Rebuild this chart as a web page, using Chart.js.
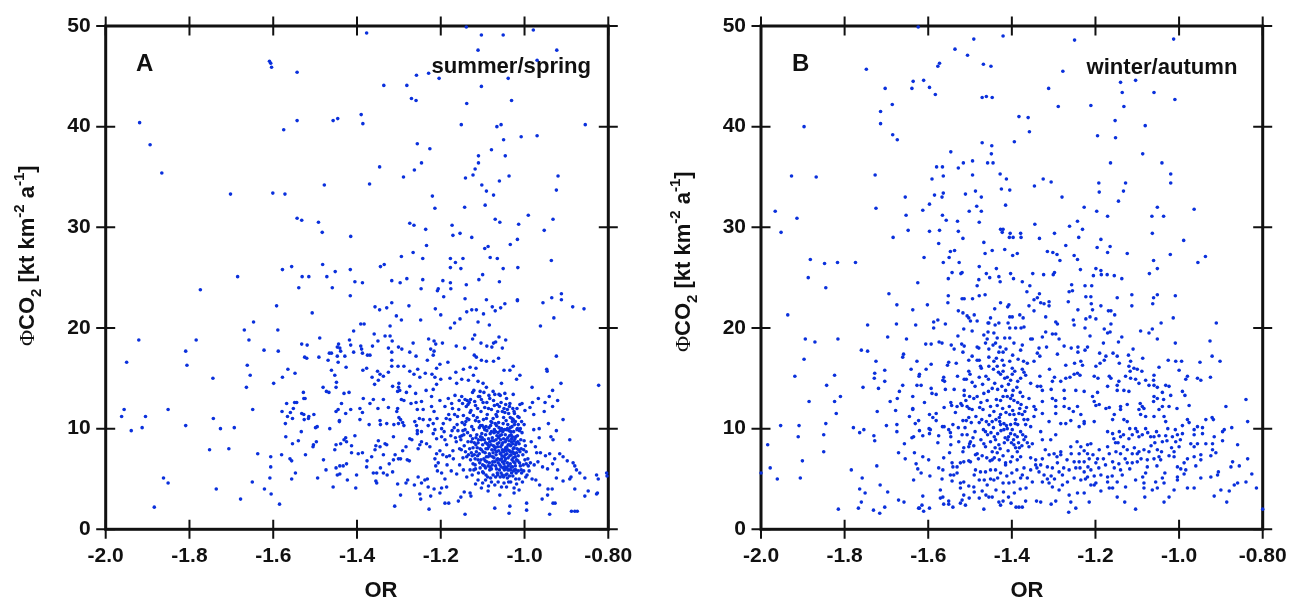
<!DOCTYPE html>
<html>
<head>
<meta charset="utf-8">
<script src="https://cdn.jsdelivr.net/npm/chart.js@4"></script>
<style>
html,body{margin:0;padding:0;background:#fff;overflow:hidden}
canvas{position:absolute;top:0}
</style>
</head>
<body>
<canvas id="panelA" width="645" height="601" style="left:0"></canvas>
<canvas id="panelB" width="644" height="601" style="left:645px"></canvas>
<script>
const xTicks = [-2.0,-1.8,-1.6,-1.4,-1.2,-1.0,-0.8]
const xTickLabels = ['-2.0','-1.8','-1.6','-1.4','-1.2','-1.0','-0.80']
const yTicks = [0,10,20,30,40,50]

// OR, flux pairs
const summerSpring = [
[-1.919,40.4],[-1.894,38.2],[-1.866,35.4],[-1.702,33.3],[-1.601,33.4],[-1.572,33.3],[-1.609,46.5],[-1.606,46.3],[-1.604,45.9],[-1.543,45.4],
[-1.543,40.6],[-1.575,39.7],[-1.478,34.2],[-1.543,30.9],[-1.532,30.7],[-1.492,30.5],[-1.483,29.5],[-1.482,26.3],[-1.556,26.1],[-1.578,25.8],
[-1.531,25.1],[-1.515,25.1],[-1.472,25.1],[-1.685,25.1],[-1.774,23.8],[-1.539,24.0],
[-1.377,49.3],[-1.139,49.9],[-1.103,49.1],[-1.051,49.1],[-0.979,49.6],[-1.111,47.6],[-0.923,47.6],[-0.970,46.6],[-1.258,45.1],[-1.229,45.3],
[-1.204,44.8],[-1.039,44.8],[-1.336,44.1],[-1.281,44.1],[-1.103,44.0],[-1.270,42.8],[-1.259,42.6],[-1.138,42.3],[-1.031,42.6],[-1.457,40.6],
[-1.446,40.8],[-1.390,41.2],[-1.386,40.3],[-1.151,40.2],[-1.066,40.0],[-1.056,40.2],[-0.855,40.2],[-1.008,39.0],[-0.970,39.1],[-1.050,38.7],
[-1.256,38.3],[-1.226,37.8],[-1.079,37.7],[-1.110,37.1],[-1.046,37.1],[-1.110,36.4],[-1.246,36.4],[-1.346,36.0],[-1.118,35.8],[-1.263,35.7],
[-1.123,35.2],[-1.289,35.0],[-1.141,34.9],[-1.037,35.1],[-0.920,35.1],[-1.060,34.6],[-1.102,34.2],[-1.370,34.3],[-1.091,33.6],[-1.074,33.2],
[-0.924,33.7],[-1.220,33.1],[-1.214,31.9],[-1.143,32.0],[-1.094,32.2],[-0.991,31.2],[-1.070,30.8],[-1.059,30.5],[-0.932,30.8],[-1.274,30.4],
[-1.264,30.2],[-1.173,30.2],[-1.014,30.3],[-1.236,29.8],[-0.953,29.7],[-1.171,29.2],[-1.154,29.4],[-1.126,29.0],[-1.017,28.8],[-1.415,29.1],
[-1.034,28.3],[-1.234,28.2],[-1.095,27.9],[-1.087,28.1],[-1.266,27.5],[-1.294,27.1],[-1.243,26.9],[-1.177,26.9],[-1.147,26.9],[-1.082,27.0],
[-1.065,26.9],[-0.936,26.7],[-1.165,26.5],[-1.177,26.0],[-1.152,25.9],[-1.051,25.9],[-1.016,26.0],[-1.344,26.1],[-1.335,26.3],[-1.416,25.8],
[-1.452,25.6],[-1.100,25.3],[-1.109,24.8],[-1.060,24.6],[-1.317,24.7],[-1.297,24.5],[-1.281,24.9],[-1.243,24.8],[-1.195,24.7],[-1.177,24.5],
[-1.139,24.3],[-1.405,24.6],[-1.387,24.5],[-1.459,24.0],[-1.247,23.9],[-1.206,23.9],[-1.208,23.7],[-1.176,23.9],[-1.416,23.2],[-1.193,23.1],
[-1.142,22.9],[-0.935,23.0],[-0.912,23.4],[-0.912,22.8],[-1.091,22.8],[-1.017,22.8],
[-1.592,22.2],[-1.507,21.5],[-1.647,20.6],[-1.669,19.8],[-1.589,19.8],[-1.921,18.8],[-1.784,18.8],[-1.658,18.8],[-1.489,19.0],[-1.532,18.4],
[-1.519,18.3],[-1.622,17.8],[-1.588,17.7],[-1.809,17.7],[-1.950,16.6],[-1.806,16.3],[-1.662,16.3],[-1.525,17.1],[-1.520,17.0],[-1.491,17.1],
[-1.469,16.8],[-1.466,17.5],[-1.565,15.9],[-1.548,15.5],[-1.655,15.3],[-1.578,15.1],[-1.744,15.0],[-1.599,14.5],[-1.664,14.1],[-1.481,14.1],
[-1.473,13.7],[-1.467,13.6],[-1.528,13.6],[-1.527,13.0],[-1.524,13.0],[-1.549,12.6],[-1.544,12.6],[-1.568,12.5],[-1.552,12.0],[-1.559,11.6],
[-1.579,11.7],[-1.566,11.2],[-1.554,11.0],[-1.532,11.5],[-1.527,11.4],[-1.503,11.4],[-1.515,11.2],[-1.516,11.0],[-1.526,10.9],[-1.571,10.5],
[-1.499,10.1],[-1.495,10.2],[-1.533,9.7],[-1.465,10.0],[-1.570,9.2],[-1.540,8.8],[-1.554,8.5],[-1.497,8.7],[-1.504,8.4],[-1.505,8.2],
[-1.580,7.4],[-1.523,7.4],[-1.637,7.5],[-1.606,7.2],[-1.606,6.2],[-1.560,7.0],[-1.556,6.8],[-1.480,6.9],[-1.474,5.9],[-1.547,5.6],
[-1.494,5.1],[-1.556,5.0],[-1.608,5.1],[-1.650,4.7],[-1.621,4.0],[-1.605,3.5],[-1.585,2.5],[-1.678,3.0],[-1.736,4.0],[-1.862,5.1],
[-1.851,4.6],[-1.884,2.2],[-1.956,11.9],[-1.962,11.2],[-1.939,9.8],[-1.913,10.1],[-1.905,11.2],[-1.851,11.9],[-1.809,10.3],[-1.743,11.0],
[-1.726,10.0],[-1.693,10.1],[-1.649,11.9],[-1.752,7.9],[-1.706,8.0],
[-1.357,22.1],[-1.346,21.8],[-1.329,22.0],[-1.317,22.5],[-1.276,22.2],[-1.213,21.9],[-1.200,21.3],[-1.138,21.6],[-1.126,21.8],[-1.115,21.8],
[-1.098,21.4],[-1.077,22.1],[-1.070,21.7],[-1.057,22.0],[-1.047,22.4],[-1.017,22.7],[-0.956,22.5],[-0.885,22.1],[-0.858,21.9],[-0.930,21.0],
[-0.962,20.2],[-1.306,21.2],[-1.294,20.8],[-1.248,20.8],[-1.154,20.9],[-1.167,20.5],[-1.177,20.0],[-1.111,20.6],[-1.084,20.3],[-1.391,20.4],
[-1.383,20.4],[-1.321,20.2],[-1.408,19.7],[-1.359,19.4],[-1.333,19.2],[-1.321,19.2],[-1.316,18.7],[-1.350,18.7],[-1.418,18.8],[-1.415,18.3],
[-1.444,18.4],[-1.447,18.1],[-1.441,18.0],[-1.439,17.7],[-1.461,17.5],[-1.447,17.2],[-1.429,17.2],[-1.391,18.2],[-1.389,17.9],[-1.387,17.5],
[-1.363,18.2],[-1.408,17.6],[-1.375,17.3],[-1.369,17.3],[-1.325,18.0],[-1.317,17.6],[-1.301,18.1],[-1.293,17.9],[-1.266,18.5],[-1.274,17.6],
[-1.229,18.9],[-1.216,18.7],[-1.212,18.4],[-1.224,17.9],[-1.216,17.7],[-1.218,17.3],[-1.196,18.5],[-1.163,18.2],[-1.143,18.0],[-1.124,18.9],
[-1.119,19.3],[-1.104,18.5],[-1.090,18.2],[-1.074,18.5],[-1.069,18.6],[-1.078,18.1],[-1.061,19.1],[-1.045,18.8],[-1.053,18.0],[-1.120,17.3],
[-1.115,17.1],[-1.259,17.2],[-1.317,16.8],[-1.232,16.8],[-1.183,16.6],[-1.202,16.4],[-1.103,16.8],[-1.091,16.7],[-1.074,16.7],[-1.062,17.0],
[-0.924,17.2],[-1.445,16.6],[-1.426,16.1],[-1.461,15.8],[-1.453,15.3],[-1.449,14.6],[-1.450,14.1],[-1.386,15.8],[-1.377,16.0],[-1.317,16.2],
[-1.302,16.2],[-1.288,16.2],[-1.351,15.7],[-1.345,15.4],[-1.325,15.6],[-1.364,15.1],[-1.337,15.2],[-1.349,14.8],[-1.358,14.4],[-1.210,16.0],
[-1.214,15.1],[-1.200,14.9],[-1.274,15.7],[-1.264,15.4],[-1.255,15.9],[-1.250,15.1],[-1.237,15.5],[-1.221,15.4],[-1.178,15.0],[-1.164,15.6],
[-1.146,15.9],[-1.130,16.1],[-1.116,16.0],[-1.049,15.8],[-1.035,15.8],[-1.027,16.2],[-1.011,15.3],[-1.019,14.9],[-0.947,15.9],[-0.946,15.7],
[-0.913,14.5],[-0.823,14.3],[-0.982,14.1],[-0.933,13.8],[-1.419,13.6],[-1.431,13.5],[-1.437,12.5],[-1.445,11.9],[-1.450,11.7],[-1.442,10.7],
[-1.415,11.9],[-1.427,11.5],[-1.385,13.0],[-1.369,12.5],[-1.361,12.9],[-1.350,12.0],[-1.393,12.0],[-1.387,11.6],[-1.337,12.9],[-1.325,12.1],
[-1.303,13.7],[-1.298,13.8],[-1.315,14.2],[-1.300,14.5],[-1.301,14.1],[-1.282,13.6],[-1.274,14.2],[-1.260,13.5],[-1.235,13.8],[-1.218,13.9],
[-1.210,14.4],[-1.222,13.2],[-1.294,12.9],[-1.288,12.8],[-1.303,12.0],[-1.305,11.7],[-1.271,12.5],[-1.259,12.6],[-1.246,12.7],[-1.256,11.9],
[-1.242,11.9],[-1.222,12.2],[-1.216,11.7],[-1.202,12.8],[-1.190,12.2],[-1.166,13.3],[-1.150,13.2],[-1.137,12.8],[-1.182,13.0],[-1.174,12.5],
[-1.162,14.5],[-1.150,14.9],[-1.134,14.8],[-1.122,15.3],[-1.111,14.7],[-1.099,14.5],[-1.121,13.8],[-1.106,13.7],[-1.091,14.1],[-1.075,13.7],
[-1.055,14.5],[-1.047,13.5],[-1.027,13.4],[-1.043,13.0],[-1.035,12.5],[-1.011,12.4],[-1.006,12.5],[-0.967,13.0],[-0.981,12.6],[-0.987,12.1],
[-0.941,13.2],[-0.951,12.6],[-0.921,12.8],[-0.933,12.2],[-0.953,11.7],[-1.025,11.7],[-0.999,11.8],[-0.978,11.4],[-0.908,10.9],[-0.943,10.5],
[-0.924,9.8],[-0.978,9.9],[-0.965,10.0],[-0.892,8.9],[-0.965,9.1],[-0.937,9.2],[-0.932,8.9],[-0.916,7.5],[-0.908,7.2],[-0.898,6.8],
[-0.884,6.6],[-0.880,6.3],[-0.876,5.9],[-0.868,5.6],[-0.856,5.1],[-0.828,5.4],[-0.824,5.0],[-0.804,5.6],[-0.803,5.3],[-0.848,3.8],
[-0.856,3.3],[-0.826,3.6],[-0.828,3.5],[-0.880,4.0],[-0.892,5.0],[-0.889,5.2],[-0.908,4.8],[-0.924,5.1],[-0.888,1.8],[-0.880,1.8],
[-0.874,1.8],[-0.940,1.5],[-0.932,2.6],[-0.927,2.6],[-0.958,3.0],[-0.945,3.4],[-0.944,4.0],[-0.934,4.0],[-0.995,2.6],[-0.995,1.9],
[-1.037,1.6],[-1.035,2.3],[-1.071,2.1],[-1.142,1.5],[-1.228,2.0],[-1.310,2.3],[-1.190,2.6],[-1.181,2.6],[-1.158,2.8],[-1.152,3.2],
[-1.144,3.7],[-1.130,3.6],[-1.128,3.3],[-1.117,4.5],[-1.103,4.1],[-1.087,3.8],[-1.059,3.4],[-1.025,4.1],[-1.025,3.6],[-1.013,3.9],
[-1.250,3.5],[-1.248,3.0],[-1.224,3.3],[-1.202,3.6],[-1.198,4.1],[-1.186,4.2],[-1.296,3.4],[-1.303,4.5],[-1.283,4.6],[-1.279,4.9],
[-1.263,4.4],[-1.246,4.6],[-1.238,4.9],[-1.232,5.0],[-1.230,4.2],[-1.216,4.0],[-1.254,5.2],[-1.361,5.6],[-1.353,5.6],[-1.344,6.1],
[-1.337,5.6],[-1.328,5.4],[-1.323,6.5],[-1.315,5.7],[-1.355,4.8],[-1.353,4.6],[-1.377,6.2],[-1.376,6.8],[-1.365,7.2],[-1.357,7.9],
[-1.345,8.2],[-1.349,8.8],[-1.355,8.3],[-1.333,8.5],[-1.329,8.4],[-1.337,7.4],[-1.313,6.9],[-1.309,7.4],[-1.301,7.0],[-1.296,7.0],
[-1.291,7.8],[-1.283,8.2],[-1.274,9.0],[-1.269,8.9],[-1.280,6.9],[-1.275,6.8],[-1.313,9.2],[-1.405,9.3],[-1.427,9.1],[-1.431,8.9],
[-1.439,8.5],[-1.450,8.4],[-1.453,7.9],[-1.425,8.7],[-1.413,8.3],[-1.413,7.6],[-1.397,7.5],[-1.387,7.6],[-1.371,10.4],[-1.393,10.9],
[-1.442,10.8],[-1.345,10.8],[-1.344,10.4],[-1.329,10.5],[-1.312,10.4],[-1.300,11.1],[-1.296,10.9],[-1.301,10.5],[-1.291,10.6],[-1.288,10.3],
[-1.450,6.1],[-1.441,6.3],[-1.433,6.3],[-1.425,6.5],[-1.447,5.4],[-1.441,5.5],[-1.401,5.4],[-1.423,4.9],[-1.457,4.2],[-1.403,4.1],
[-1.262,10.7],[-1.258,10.3],[-1.251,11.0],[-1.242,10.9],[-1.256,9.8],[-1.246,9.7],[-1.256,9.5],[-1.246,8.7],[-1.234,8.5],[-1.226,10.9],
[-1.230,10.3],[-1.218,10.5],[-1.209,11.0],[-1.194,10.5],[-1.214,9.9],[-1.198,10.0],[-1.198,9.2],[-1.190,8.9],[-1.210,9.0],[-1.218,9.5],
[-1.226,8.2],[-1.250,8.4],[-1.254,8.0],[-1.210,7.5],[-1.202,7.8],[-1.214,7.0],[-1.206,6.6],[-1.212,6.3],[-1.185,6.4],[-1.186,7.2],
[-1.170,7.0],[-1.198,5.6],[-1.190,5.0],[-1.208,5.8],[-1.162,5.5],[-1.146,5.9],[-1.130,5.9],[-1.121,5.9],
// dense core, around -1.05 / 8
[-1.181,11.4],[-1.168,10.1],[-1.157,11.9],[-1.176,9.3],[-1.149,10.6],[-1.163,8.7],[-1.139,12.2],[-1.154,9.2],[-1.133,10.9],[-1.171,7.8],
[-1.128,11.8],[-1.144,8.3],[-1.119,12.7],[-1.136,9.6],[-1.113,11.1],[-1.127,7.6],[-1.107,13.2],[-1.122,9.9],[-1.101,10.3],[-1.116,8.4],
[-1.095,12.1],[-1.111,6.9],[-1.089,11.4],[-1.105,9.2],[-1.083,13.0],[-1.099,7.7],[-1.078,10.6],[-1.093,8.6],[-1.072,12.3],[-1.087,6.3],
[-1.066,11.2],[-1.082,9.5],[-1.061,13.4],[-1.076,7.2],[-1.055,10.0],[-1.070,8.1],[-1.049,12.0],[-1.065,5.6],[-1.044,10.8],[-1.059,9.3],
[-1.038,11.5],[-1.053,6.7],[-1.033,9.7],[-1.047,7.9],[-1.027,10.9],[-1.041,5.1],[-1.021,9.2],[-1.035,8.4],[-1.015,10.4],[-1.029,6.2],
[-1.147,7.1],[-1.118,6.4],[-1.092,5.4],[-1.068,7.4],[-1.043,6.1],[-1.024,7.5],[-1.009,8.9],[-1.003,6.4],[-0.996,7.7],[-0.989,5.8],
[-1.137,11.0],[-1.124,9.0],[-1.109,10.7],[-1.096,8.9],[-1.085,10.1],[-1.073,8.8],[-1.064,11.7],[-1.056,7.6],[-1.046,9.4],[-1.039,7.1],
[-1.031,8.7],[-1.026,6.7],[-1.018,8.0],[-1.012,6.6],[-1.006,9.6],[-0.998,8.3],[-0.992,7.0],[-0.984,8.7],[-0.977,6.4],[-0.971,7.6],
[-1.131,8.0],[-1.126,10.2],[-1.114,9.4],[-1.103,7.9],[-1.098,10.9],[-1.091,7.2],[-1.086,9.0],[-1.079,6.0],[-1.075,11.0],[-1.069,9.7],
[-1.063,6.6],[-1.057,8.9],[-1.051,10.5],[-1.048,5.9],[-1.042,8.2],[-1.037,9.8],[-1.032,7.4],[-1.028,5.3],[-1.023,9.0],[-1.019,6.9],
[-1.142,9.9],[-1.129,6.9],[-1.120,8.6],[-1.112,7.3],[-1.106,6.1],[-1.100,8.4],[-1.094,6.8],[-1.088,8.0],[-1.081,5.1],[-1.074,8.3],
[-1.067,10.3],[-1.062,7.8],[-1.058,5.2],[-1.052,8.6],[-1.045,7.0],[-1.040,9.1],[-1.034,6.5],[-1.030,10.2],[-1.025,8.1],[-1.020,5.6],
[-1.159,9.8],[-1.151,7.9],[-1.146,11.3],[-1.141,7.7],[-1.135,8.7],[-1.130,11.6],[-1.125,7.3],[-1.117,10.8],[-1.110,8.9],[-1.104,11.7],
[-1.097,7.0],[-1.090,9.8],[-1.084,7.5],[-1.077,9.1],[-1.071,6.7],[-1.065,8.5],[-1.060,12.2],[-1.054,7.3],[-1.049,6.5],[-1.043,9.9],
[-1.036,7.8],[-1.031,5.6],[-1.026,9.7],[-1.022,7.2],[-1.017,9.3],[-1.011,7.7],[-1.007,5.6],[-1.001,8.8],[-0.994,5.4],[-0.986,6.6],
[-1.108,7.5],[-1.102,9.5],[-1.096,6.3],[-1.089,8.5],[-1.083,5.9],[-1.078,7.9],[-1.072,9.9],[-1.067,6.0],[-1.062,9.1],[-1.056,6.2],
[-1.050,7.7],[-1.046,8.7],[-1.041,6.6],[-1.038,4.7],[-1.033,8.3],[-1.029,7.7],[-1.024,5.9],[-1.016,6.8],[-1.013,5.0],[-1.004,7.4],
[-1.115,7.7],[-1.107,6.6],[-1.100,5.7],[-1.093,9.4],[-1.087,7.2],[-1.080,8.4],[-1.073,7.1],[-1.068,8.9],[-1.064,7.0],[-1.058,9.8],
[-1.053,5.4],[-1.047,6.8],[-1.042,7.5],[-1.037,5.9],[-1.032,9.4],[-1.027,8.0],[-1.022,6.3],[-1.018,9.9],[-1.010,6.3],[-0.999,6.9],
[-1.178,10.9],[-1.172,12.0],[-1.165,9.1],[-1.160,11.2],[-1.155,8.0],[-1.148,12.5],[-1.143,10.4],[-1.138,7.2],[-1.132,12.6],[-1.127,8.7],
[-1.122,11.3],[-1.118,7.0],[-1.112,12.0],[-1.105,10.3],[-1.099,12.6],[-1.092,10.2],[-1.086,12.0],[-1.080,10.7],[-1.074,12.8],[-1.068,11.4],
[-1.062,10.6],[-1.056,12.6],[-1.050,11.1],[-1.045,12.4],[-1.040,10.4],[-1.034,11.1],[-1.028,12.0],[-1.022,10.7],[-1.016,11.2],[-1.010,10.0],
[-0.974,8.2],[-0.968,6.7],[-0.962,7.6],[-0.957,6.2],[-0.950,7.3],[-0.945,6.0],[-0.940,7.5],[-0.933,6.5],[-0.928,7.0],[-0.921,5.9],
[-1.186,8.4],[-1.179,7.3],[-1.192,9.7],[-1.187,11.0],[-1.195,7.4],[-1.175,5.8],[-1.155,6.4],[-1.138,5.2],[-1.125,5.4],[-1.111,4.9],
[-1.100,4.6],[-1.093,4.9],[-1.086,4.3],[-1.079,4.7],[-1.071,4.4],[-1.063,4.7],[-1.055,4.2],[-1.049,4.6],[-1.043,4.2],[-1.033,4.7],
[-1.019,4.5],[-1.005,4.7],[-0.997,5.2],[-0.982,5.0],[-0.973,4.9],[-0.964,4.4],
// second pass over the solid middle of the blob
[-1.116,9.1],[-1.108,10.1],[-1.103,8.9],[-1.097,10.1],[-1.094,7.6],[-1.091,11.0],[-1.087,8.4],[-1.084,6.6],[-1.081,10.3],[-1.078,8.8],
[-1.076,6.7],[-1.073,9.6],[-1.071,7.9],[-1.069,5.2],[-1.066,9.3],[-1.064,8.2],[-1.061,10.1],[-1.059,6.9],[-1.057,8.2],[-1.055,9.4],
[-1.053,7.9],[-1.051,6.1],[-1.048,9.9],[-1.046,7.4],[-1.044,8.9],[-1.041,10.0],[-1.039,6.3],[-1.037,8.8],[-1.035,7.3],[-1.033,5.9],
[-1.031,9.0],[-1.029,10.7],[-1.027,7.1],[-1.025,8.8],[-1.023,6.6],[-1.021,8.4],[-1.019,7.6],[-1.017,10.0],[-1.015,7.3],[-1.013,8.5],
[-1.120,7.4],[-1.113,8.1],[-1.106,8.0],[-1.100,6.4],[-1.095,9.9],[-1.090,6.7],[-1.085,8.2],[-1.082,7.3],[-1.079,9.7],[-1.075,7.6],
[-1.070,10.5],[-1.067,7.7],[-1.063,9.6],[-1.060,5.9],[-1.058,7.5],[-1.054,8.4],[-1.052,9.7],[-1.049,7.2],[-1.047,6.2],[-1.044,7.8],
[-1.042,5.5],[-1.040,7.9],[-1.036,9.3],[-1.034,7.7],[-1.030,6.9],[-1.028,8.5],[-1.024,10.4],[-1.021,5.9],[-1.016,8.7],[-1.012,9.8],
[-1.123,8.1],[-1.111,8.6],[-1.101,9.1],[-1.092,8.0],[-1.083,8.7],[-1.077,6.4],[-1.072,8.2],[-1.066,6.9],[-1.061,8.6],[-1.055,7.0],
[-1.050,9.0],[-1.045,8.1],[-1.039,8.4],[-1.034,10.1],[-1.029,9.2],[-1.026,7.6],[-1.020,8.6],[-1.014,7.9],[-1.008,8.0],[-1.002,7.9],
[-1.150,9.3],[-1.145,9.4],[-1.140,10.7],[-1.134,7.4],[-1.129,9.3],[-1.123,6.5],[-1.117,6.0],[-1.110,5.6],[-1.104,6.9],[-1.098,5.6],
[-1.093,6.1],[-1.088,5.2],[-1.082,6.2],[-1.075,5.4],[-1.069,6.3],[-1.064,5.4],[-1.059,6.4],[-1.056,5.6],[-1.050,5.2],[-1.045,5.4],
[-1.040,5.9],[-1.036,5.3],[-1.032,6.2],[-1.026,5.8],[-1.021,5.0],[-1.015,5.8],[-1.008,5.9],[-1.002,5.8],[-0.996,6.5],[-0.991,6.3],
[-1.173,9.8],[-1.167,11.4],[-1.161,10.4],[-1.156,12.8],[-1.152,8.9],[-1.147,9.8],[-1.142,12.9],[-1.135,12.4],[-1.129,12.9],[-1.124,13.6],
[-1.117,12.3],[-1.110,13.2],[-1.103,12.9],[-1.097,13.6],[-1.090,12.6],[-1.085,13.3],[-1.079,11.9],[-1.071,13.4],[-1.065,12.4],[-1.058,13.3],
[-1.053,11.7],[-1.047,11.6],[-1.041,11.9],[-1.036,12.2],[-1.030,11.0],[-1.024,11.5],[-1.018,12.0],[-1.013,11.1],[-1.007,10.7],[-1.001,10.4]
]

// OR, flux pairs
const winterAutumn = [
[-1.748,45.7],[-1.624,49.9],[-1.491,48.7],[-1.536,47.7],[-1.506,47.1],[-1.573,46.3],[-1.577,46.0],[-1.636,44.5],[-1.639,43.8],[-1.611,44.6],
[-1.597,43.9],[-1.583,43.2],[-1.703,43.8],[-1.686,42.2],[-1.714,41.5],[-1.714,40.3],[-1.685,39.2],[-1.674,38.7],[-1.897,40.0],[-1.546,37.5],
[-1.516,36.4],[-1.494,36.6],[-1.580,36.0],[-1.566,36.0],[-1.528,35.9],[-1.494,35.2],[-1.564,35.1],[-1.591,34.8],[-1.927,35.1],[-1.868,35.0],
[-1.727,35.2],[-1.487,33.6],[-1.511,33.3],[-1.585,33.2],[-1.564,33.4],[-1.567,33.0],[-1.655,33.0],[-1.597,32.3],[-1.484,32.1],[-1.502,31.6],
[-1.725,31.9],[-1.613,31.7],[-1.966,31.6],[-1.653,31.2],[-1.914,30.9],[-1.566,31.2],[-1.557,30.7],[-1.530,30.6],[-1.478,30.5],[-1.952,29.5],
[-1.648,29.7],[-1.597,29.6],[-1.573,29.7],[-1.528,29.6],[-1.684,29.0],[-1.517,28.9],[-1.575,28.4],[-1.547,27.6],[-1.537,27.7],[-1.550,27.0],
[-1.610,27.0],[-1.882,26.8],[-1.848,26.4],[-1.817,26.5],[-1.774,26.5],[-1.564,26.5],[-1.526,26.5],[-1.478,26.1],[-1.543,25.5],[-1.519,25.5],
[-1.522,25.4],[-1.887,25.0],[-1.552,24.9],[-1.479,24.8],[-1.625,24.5],[-1.483,24.2],[-1.845,24.0],[-1.694,23.4],[-1.552,23.2],[-1.519,22.9],
[-1.514,22.9],[-1.494,22.9],[-1.478,23.2],
[-1.421,49.0],[-1.250,48.6],[-1.013,48.7],[-1.468,46.2],[-1.450,46.0],[-1.278,45.5],[-1.104,44.6],[-1.140,44.4],[-1.060,43.4],[-1.136,43.4],
[-1.312,43.8],[-1.010,42.7],[-1.471,42.9],[-1.461,43.0],[-1.447,42.9],[-1.289,42.0],[-1.211,42.1],[-1.132,42.0],[-1.383,41.0],[-1.361,40.9],
[-1.358,39.5],[-1.153,40.6],[-1.081,40.1],[-1.195,39.1],[-1.152,38.9],[-1.394,38.5],[-1.471,38.4],[-1.448,38.1],[-1.449,37.3],[-1.458,36.4],
[-1.445,36.4],[-1.087,37.3],[-1.164,36.4],[-1.041,36.4],[-1.428,35.3],[-1.413,34.8],[-1.020,35.3],[-1.020,34.4],[-1.325,34.8],[-1.306,34.5],
[-1.346,34.1],[-1.192,34.4],[-1.191,33.5],[-1.128,34.4],[-1.133,33.6],[-1.425,33.8],[-1.405,33.7],[-1.280,33.0],[-1.473,33.0],[-1.145,32.6],
[-1.415,32.2],[-1.473,31.6],[-1.227,32.0],[-1.197,31.6],[-1.171,31.1],[-1.052,32.0],[-1.065,31.1],[-1.037,31.1],[-0.964,31.8],[-1.345,30.3],
[-1.262,30.1],[-1.243,30.6],[-1.231,29.8],[-1.427,29.8],[-1.421,29.8],[-1.423,29.5],[-1.404,29.4],[-1.379,29.4],[-1.406,29.0],[-1.397,29.0],
[-1.378,29.0],[-1.298,29.4],[-1.240,29.0],[-1.334,28.9],[-1.064,29.4],[-0.989,28.7],[-1.187,28.8],[-1.196,28.0],[-1.165,28.1],[-1.271,28.2],
[-1.467,28.5],[-1.417,27.8],[-1.447,27.7],[-1.464,27.4],[-1.398,27.2],[-1.387,27.4],[-1.315,27.6],[-1.302,27.5],[-1.292,27.3],[-1.285,26.7],
[-1.251,27.2],[-1.243,26.8],[-1.171,27.5],[-1.124,27.4],[-1.021,27.3],[-1.061,26.7],[-0.937,27.1],[-0.955,26.5],[-1.437,25.9],[-1.236,25.8],
[-1.199,25.9],[-1.187,25.7],[-1.052,25.9],[-1.071,25.4],[-1.461,25.4],[-1.453,25.0],[-1.431,25.1],[-1.428,24.6],[-1.403,25.4],[-1.396,24.9],
[-1.350,25.4],[-1.324,25.3],[-1.301,25.3],[-1.298,25.5],[-1.375,24.6],[-1.357,24.2],[-1.205,25.2],[-1.186,25.3],[-1.172,25.3],[-1.155,25.2],
[-1.137,24.9],[-1.257,24.3],[-1.225,24.2],[-1.209,24.2],[-1.255,23.7],[-1.263,23.6],[-1.364,23.6],[-1.334,23.4],[-1.339,23.0],[-1.347,22.8],
[-1.464,23.3],[-1.223,23.1],[-1.211,23.1],[-1.148,23.0],[-1.113,23.3],[-1.061,23.0],[-1.052,23.3],[-1.009,23.2],
[-1.936,21.3],[-1.675,22.3],[-1.637,21.8],[-1.602,22.3],[-1.553,22.5],[-1.528,21.7],[-1.517,21.5],[-1.507,21.2],[-1.503,21.0],[-1.499,20.7],
[-1.490,21.3],[-1.483,20.7],[-1.587,20.6],[-1.587,20.0],[-1.577,20.8],[-1.559,20.4],[-1.676,20.4],[-1.630,20.3],[-1.745,20.3],[-1.515,19.9],
[-1.495,19.7],[-1.697,19.1],[-1.652,18.9],[-1.894,18.9],[-1.871,18.6],[-1.816,18.9],[-1.606,18.4],[-1.593,18.4],[-1.574,18.6],[-1.567,18.5],
[-1.529,19.2],[-1.545,18.3],[-1.538,17.9],[-1.520,18.4],[-1.514,18.2],[-1.517,17.6],[-1.760,17.8],[-1.745,17.7],[-1.483,18.1],[-1.479,18.0],
[-1.495,17.2],[-1.503,16.8],[-1.483,16.8],[-1.478,16.8],[-1.897,16.9],[-1.659,17.4],[-1.661,17.1],[-1.627,16.7],[-1.593,16.4],[-1.551,16.6],
[-1.554,16.3],[-1.533,16.5],[-1.725,16.7],[-1.919,15.2],[-1.824,15.3],[-1.843,14.3],[-1.704,15.8],[-1.728,15.5],[-1.729,15.0],[-1.704,14.7],
[-1.641,15.9],[-1.605,15.9],[-1.621,15.4],[-1.622,15.2],[-1.563,15.1],[-1.561,14.7],[-1.565,14.8],[-1.530,15.2],[-1.509,14.9],[-1.503,15.7],
[-1.500,15.4],[-1.495,14.6],[-1.514,14.9],[-1.756,14.1],[-1.719,14.0],[-1.661,14.3],[-1.669,13.7],[-1.627,14.3],[-1.617,14.3],[-1.593,14.0],
[-1.591,13.5],[-1.581,13.4],[-1.559,13.9],[-1.538,13.9],[-1.514,13.8],[-1.514,13.3],[-1.810,13.2],[-1.824,12.7],[-1.820,11.5],[-1.885,12.7],
[-1.691,12.7],[-1.674,13.0],[-1.637,13.2],[-1.609,12.6],[-1.722,11.7],[-1.678,11.8],[-1.637,12.0],[-1.637,11.9],[-1.597,11.4],[-1.581,11.5],
[-1.589,11.1],[-1.562,12.1],[-1.546,12.6],[-1.544,12.3],[-1.531,12.2],[-1.522,12.5],[-1.519,12.3],[-1.535,11.6],[-1.501,13.2],[-1.491,13.0],
[-1.483,13.2],[-1.502,12.0],[-1.495,11.9],[-1.507,12.2],[-1.645,11.2],[-1.623,10.8],[-1.631,10.5],[-1.581,10.8],[-1.566,10.2],[-1.562,10.2],
[-1.541,10.4],[-1.517,10.8],[-1.509,10.8],[-1.503,11.1],[-1.909,10.3],[-1.953,10.3],[-1.845,10.5],[-1.850,9.4],[-1.911,9.2],[-1.984,8.4],
[-1.850,7.7],[-1.779,10.1],[-1.754,9.9],[-1.764,9.6],[-1.700,10.3],[-1.675,10.4],[-1.675,9.7],[-1.730,9.3],[-1.728,8.8],[-1.657,8.5],
[-1.635,9.2],[-1.639,9.1],[-1.598,10.0],[-1.595,9.9],[-1.621,9.8],[-1.613,9.3],[-1.597,9.5],[-1.575,9.3],[-1.577,8.6],[-1.551,9.9],
[-1.547,9.6],[-1.546,9.2],[-1.546,8.4],[-1.527,8.7],[-1.519,9.4],[-1.507,9.4],[-1.501,8.5],[-1.499,8.7],[-1.493,9.1],[-1.671,7.6],
[-1.655,7.0],[-1.633,7.6],[-1.613,7.2],[-1.599,6.9],[-1.629,6.5],[-1.563,7.1],[-1.549,7.6],[-1.515,8.1],[-1.517,7.7],[-1.503,8.2],
[-1.491,8.3],[-1.483,7.5],[-1.487,7.4],[-1.901,6.8],[-1.978,6.1],[-2.0,5.6],[-1.961,5.0],[-1.906,5.1],[-1.784,5.9],[-1.723,6.3],
[-1.758,5.1],[-1.715,4.4],[-1.625,6.0],[-1.617,5.6],[-1.596,5.3],[-1.575,6.1],[-1.565,5.9],[-1.635,4.9],[-1.543,6.6],[-1.541,6.2],
[-1.531,6.2],[-1.523,6.6],[-1.515,6.7],[-1.503,6.8],[-1.499,6.7],[-1.487,5.9],[-1.490,5.4],[-1.547,5.4],[-1.539,5.4],[-1.531,5.6],
[-1.567,5.0],[-1.543,4.8],[-1.523,4.6],[-1.515,4.7],[-1.523,4.1],[-1.503,4.3],[-1.491,4.2],[-1.490,3.7],[-1.764,4.0],[-1.751,3.6],
[-1.760,2.7],[-1.697,3.7],[-1.671,2.9],[-1.658,2.7],[-1.571,3.9],[-1.571,3.1],[-1.565,3.2],[-1.563,2.5],[-1.551,2.8],[-1.551,2.5],
[-1.541,2.2],[-1.523,2.6],[-1.519,2.9],[-1.511,2.4],[-1.515,3.4],[-1.502,3.1],[-1.613,3.3],[-1.615,2.4],[-1.623,2.1],[-1.621,2.1],
[-1.611,1.8],[-1.597,2.1],[-1.815,2.0],[-1.767,2.1],[-1.731,1.9],[-1.716,1.6],[-1.704,2.2],
[-1.427,22.5],[-1.407,22.3],[-1.410,22.1],[-1.441,21.9],[-1.359,22.2],[-1.347,21.7],[-1.331,22.5],[-1.323,22.4],[-1.311,22.6],[-1.311,22.2],
[-1.265,22.6],[-1.242,21.8],[-1.210,22.4],[-1.187,22.2],[-1.169,21.7],[-1.163,21.7],[-1.154,21.3],[-1.113,22.2],[-1.063,22.4],[-1.014,21.0],
[-1.043,20.5],[-0.911,20.5],[-1.457,20.5],[-1.455,20.5],[-1.431,20.5],[-1.409,20.5],[-1.405,21.1],[-1.399,21.1],[-1.381,21.3],[-1.373,21.0],
[-1.405,20.0],[-1.391,20.0],[-1.378,20.0],[-1.371,20.1],[-1.319,21.1],[-1.295,20.6],[-1.291,20.4],[-1.253,20.8],[-1.251,20.3],[-1.223,20.9],
[-1.213,21.1],[-1.207,21.8],[-1.199,20.9],[-1.225,20.0],[-1.179,19.9],[-1.171,19.5],[-1.165,19.6],[-1.163,20.4],[-1.092,19.7],[-1.072,19.5],
[-1.064,19.9],[-1.052,18.9],[-1.009,18.5],[-0.926,18.7],[-1.457,19.6],[-1.467,19.3],[-1.443,19.5],[-1.459,18.9],[-1.435,19.0],[-1.417,19.0],
[-1.405,19.0],[-1.395,18.5],[-1.375,18.3],[-1.379,17.8],[-1.439,18.5],[-1.445,18.3],[-1.455,17.9],[-1.431,17.6],[-1.421,17.6],[-1.355,18.9],
[-1.351,18.9],[-1.327,19.1],[-1.319,19.6],[-1.303,19.4],[-1.295,19.4],[-1.287,18.9],[-1.317,18.1],[-1.335,18.0],[-1.339,17.5],[-1.333,17.2],
[-1.347,16.7],[-1.363,16.5],[-1.291,17.4],[-1.275,18.2],[-1.258,18.0],[-1.242,18.1],[-1.242,17.6],[-1.225,17.8],[-1.213,19.2],[-1.219,18.1],
[-1.181,18.5],[-1.145,18.6],[-1.137,19.1],[-1.190,17.5],[-1.158,17.5],[-1.148,17.2],[-1.121,17.3],[-1.110,17.9],[-1.087,17.0],[-1.175,17.2],
[-1.179,16.8],[-1.189,16.5],[-1.199,16.2],[-1.143,16.5],[-1.235,16.7],[-1.250,16.5],[-1.271,16.3],[-1.231,16.3],[-1.310,15.9],[-1.116,16.7],
[-1.120,16.2],[-1.108,16.0],[-1.100,15.9],[-1.089,15.7],[-1.048,16.1],[-1.026,16.8],[-1.008,16.7],[-0.994,16.7],[-1.000,15.8],[-0.950,16.6],
[-0.921,17.2],[-0.902,16.7],[-0.925,15.1],[-0.956,15.0],[-0.948,14.8],[-0.980,15.2],[-0.984,14.9],[-1.437,17.0],[-1.423,16.8],[-1.419,16.3],
[-1.435,16.2],[-1.455,16.2],[-1.475,16.2],[-1.405,16.7],[-1.399,16.0],[-1.375,15.9],[-1.371,15.6],[-1.367,15.3],[-1.379,15.0],[-1.427,15.4],
[-1.417,15.0],[-1.399,15.4],[-1.403,14.8],[-1.333,15.2],[-1.355,14.5],[-1.331,14.2],[-1.298,15.1],[-1.303,14.7],[-1.283,14.7],[-1.271,15.0],
[-1.261,15.1],[-1.251,15.4],[-1.243,15.5],[-1.237,15.3],[-1.203,15.2],[-1.194,15.0],[-1.167,15.2],[-1.163,15.0],[-1.148,14.3],[-1.144,14.7],
[-1.128,15.2],[-1.117,15.7],[-1.116,15.0],[-1.104,14.9],[-1.096,14.5],[-1.080,14.8],[-1.060,15.3],[-1.061,14.8],[-1.060,14.3],[-1.072,14.3],
[-1.032,14.3],[-1.024,14.2],[-1.052,14.1],[-1.040,13.6],[-1.020,13.3],[-0.992,13.7],[-0.986,13.3],[-1.060,13.2],[-1.061,12.7],[-1.052,13.0],
[-1.037,12.9],[-0.840,12.9],[-0.888,12.2],[-0.976,12.3],[-1.040,12.2],[-1.048,11.9],[-1.024,12.2],[-1.005,12.0],[-1.060,11.2],[-1.036,11.2],
[-1.032,10.7],[-0.980,10.9],[-0.976,10.6],[-0.936,10.9],[-0.921,11.1],[-0.918,10.9],[-0.836,10.7],[-0.874,10.1],[-0.892,9.9],[-0.896,9.7],
[-1.093,12.5],[-1.088,12.2],[-1.084,12.0],[-1.096,11.9],[-1.092,11.4],[-1.080,11.2],[-1.148,13.8],[-1.132,13.8],[-1.120,13.7],[-1.171,14.2],
[-1.195,13.6],[-1.207,13.2],[-1.203,12.7],[-1.199,12.3],[-1.191,12.4],[-1.175,12.0],[-1.167,12.1],[-1.124,12.4],[-1.140,12.2],[-1.140,11.9],
[-1.155,11.4],[-1.159,10.9],[-1.132,10.9],[-1.124,10.7],[-1.247,13.8],[-1.227,13.7],[-1.275,13.8],[-1.274,13.0],[-1.306,13.9],[-1.303,13.0],
[-1.295,12.8],[-1.295,12.2],[-1.243,12.2],[-1.253,11.7],[-1.235,11.4],[-1.227,10.7],[-1.275,12.2],[-1.263,12.0],[-1.295,11.5],[-1.283,10.5],
[-1.271,10.5],[-1.259,10.8],[-1.239,10.2],[-1.227,10.5],[-1.203,10.7],[-1.327,13.8],[-1.339,14.2],[-1.359,13.0],[-1.347,12.2],[-1.343,11.9],
[-1.327,12.7],[-1.327,11.5],[-1.311,10.7],[-1.347,11.2],[-1.399,13.3],[-1.403,13.0],[-1.411,13.2],[-1.395,12.8],[-1.427,12.8],[-1.435,12.3],
[-1.451,12.2],[-1.443,11.7],[-1.447,14.0],[-1.467,13.5],[-1.383,11.5],[-1.375,11.4],[-1.371,10.9],[-1.395,11.4],[-1.391,10.9],[-1.403,10.4],
[-1.399,9.9],[-1.355,10.2],[-1.367,10.4],[-1.427,10.4],[-1.419,10.5],[-1.447,10.7],[-1.455,10.4],[-1.463,9.7],[-1.171,9.7],[-1.159,9.5],
[-1.143,9.7],[-1.140,9.2],[-1.120,9.0],[-1.104,10.0],[-1.100,9.7],[-1.112,9.4],[-1.080,10.0],[-1.088,9.4],[-1.068,9.2],[-1.060,9.2],
[-1.048,9.3],[-1.032,9.3],[-1.016,9.2],[-1.004,9.4],[-0.992,9.5],[-0.992,10.3],[-0.964,9.9],[-0.956,10.2],[-0.944,10.1],[-0.964,9.4],
[-0.956,8.5],[-0.972,8.5],[-0.964,8.2],[-0.944,9.5],[-0.916,9.2],[-0.936,8.5],[-0.896,8.8],[-0.920,8.5],[-0.920,7.9],[-0.924,7.3],
[-0.912,7.6],[-0.860,8.4],[-0.872,6.7],[-0.856,6.3],[-0.836,7.0],[-0.876,6.2],[-0.826,5.5],[-0.948,7.4],[-0.948,6.9],[-0.960,6.3],
[-0.948,5.1],[-0.964,7.2],[-0.980,7.0],[-0.988,6.6],[-0.984,5.9],[-0.988,5.5],[-1.004,6.2],[-0.996,6.0],[-1.012,7.7],[-1.012,7.2],
[-1.000,8.2],[-1.004,5.2],[-1.004,4.9],[-1.034,5.6],[-1.040,5.1],[-1.036,4.6],[-1.056,4.7],[-1.064,3.9],[-1.052,4.1],[-1.036,2.7],
[-1.024,3.2],[-1.012,3.9],[-0.980,4.1],[-0.964,4.1],[-0.924,5.2],[-0.908,5.4],[-0.906,5.7],[-0.860,4.6],[-0.868,4.4],[-0.840,4.7],
[-0.815,4.1],[-0.900,3.9],[-0.880,3.8],[-0.916,3.3],[-0.886,2.7],[-0.800,2.0],[-1.104,2.0],[-1.264,1.7],[-1.247,2.1],[-1.215,2.7],
[-1.259,2.7],[-1.295,2.8],[-1.306,2.5],[-1.331,2.7],[-1.341,2.8],[-1.367,2.8],[-1.375,2.2],[-1.383,2.2],[-1.390,2.2],[-1.402,2.6],
[-1.421,2.8],[-1.431,2.7],[-1.427,2.4],[-1.467,2.0],[-1.130,2.7],[-1.148,3.2],[-1.082,3.2],[-1.167,4.1],[-1.159,4.1],[-1.187,3.8],
[-1.203,4.4],[-1.227,3.6],[-1.243,3.6],[-1.263,3.4],[-1.259,8.2],[-1.235,8.2],[-1.219,8.4],[-1.211,8.5],[-1.239,7.5],[-1.227,7.8],
[-1.219,7.5],[-1.191,7.9],[-1.251,6.7],[-1.239,6.7],[-1.227,6.7],[-1.215,7.0],[-1.199,6.6],[-1.195,7.0],[-1.171,8.2],[-1.151,7.7],
[-1.140,7.5],[-1.124,7.9],[-1.112,7.5],[-1.096,7.7],[-1.084,7.9],[-1.052,7.9],[-1.048,7.2],[-1.060,7.0],[-1.044,6.9],[-1.076,6.9],
[-1.124,6.6],[-1.112,6.6],[-1.100,6.7],[-1.159,6.7],[-1.155,6.1],[-1.140,5.9],[-1.136,5.4],[-1.076,6.2],[-1.080,5.6],[-1.171,5.2],
[-1.187,5.4],[-1.171,4.7],[-1.148,4.7],[-1.128,4.2],[-1.104,4.9],[-1.084,4.6],[-1.084,4.1],[-1.263,5.9],[-1.247,6.1],[-1.227,5.7],
[-1.211,5.9],[-1.235,4.9],[-1.219,5.2],[-1.211,4.4],[-1.199,4.6],[-1.251,5.1],[-1.267,4.7],[-1.371,6.1],[-1.355,5.9],[-1.343,6.4],
[-1.335,5.7],[-1.375,5.4],[-1.363,5.1],[-1.351,4.7],[-1.315,6.2],[-1.303,6.1],[-1.291,6.6],[-1.287,5.7],[-1.279,5.4],[-1.323,5.4],
[-1.327,4.7],[-1.311,4.6],[-1.303,4.2],[-1.287,3.9],[-1.279,4.4],[-1.355,7.1],[-1.343,6.9],[-1.327,7.0],[-1.311,7.4],[-1.299,7.5],
[-1.283,7.7],[-1.327,8.9],[-1.307,8.9],[-1.295,9.4],[-1.283,7.4],[-1.331,9.7],[-1.351,8.5],[-1.371,8.9],[-1.359,8.2],[-1.395,8.4],
[-1.387,7.7],[-1.399,7.2],[-1.415,6.6],[-1.403,6.7],[-1.387,6.9],[-1.391,8.1],[-1.379,7.2],[-1.395,4.7],[-1.407,4.6],[-1.379,5.1],
[-1.415,6.4],[-1.427,5.6],[-1.439,5.9],[-1.451,8.7],[-1.439,8.9],[-1.431,8.4],[-1.447,7.7],[-1.435,7.6],[-1.451,5.9],[-1.463,5.7],
[-1.475,5.7],[-1.443,4.9],[-1.459,4.4],[-1.471,3.8],[-1.455,3.2],[-1.447,3.2],[-1.394,3.6],[-1.427,11.4],[-1.419,9.9],[-1.411,10.0],
[-1.403,9.5],[-1.387,9.2],[-1.379,9.7],[-1.367,9.2],[-1.467,8.5],[-1.463,8.2],[-1.447,6.9],
// thick part left of centre
[-1.478,15.1],[-1.470,14.4],[-1.462,15.2],[-1.456,13.7],[-1.441,14.5],[-1.434,13.9],[-1.424,14.2],[-1.415,13.8],[-1.408,14.4],[-1.388,14.1],
[-1.380,13.6],[-1.474,12.6],[-1.469,11.9],[-1.459,12.8],[-1.453,11.3],[-1.438,10.9],[-1.430,11.1],[-1.422,12.0],[-1.414,11.6],[-1.406,12.2],
[-1.398,11.8],[-1.386,12.6],[-1.378,12.4],[-1.365,12.1],[-1.478,10.6],[-1.472,10.9],[-1.468,9.9],[-1.458,9.4],[-1.450,9.6],[-1.442,9.2],
[-1.434,9.5],[-1.426,9.8],[-1.416,9.1],[-1.408,9.2],[-1.396,8.9],[-1.384,8.6],[-1.376,8.3],[-1.480,7.0],[-1.471,7.3],[-1.460,7.1],
[-1.452,6.8],[-1.442,7.1],[-1.430,6.9],[-1.421,7.3],[-1.409,7.8],[-1.478,4.9],[-1.466,4.9],[-1.451,5.0],[-1.434,5.1],[-1.421,4.6],
[-1.412,5.3],[-1.400,5.6],[-1.388,5.9],[-1.478,3.1],[-1.462,3.4],[-1.438,3.9],[-1.420,3.7],[-1.408,3.2],[-1.380,4.0],[-1.366,4.1],
// second pass, the thick band and the lower right
[-1.461,10.7],[-1.444,10.1],[-1.437,12.9],[-1.429,10.7],[-1.421,13.2],[-1.413,10.3],[-1.405,11.4],[-1.397,13.8],[-1.392,10.5],[-1.386,10.4],
[-1.381,12.0],[-1.374,13.2],[-1.369,11.7],[-1.362,10.9],[-1.440,8.1],[-1.428,8.0],[-1.418,8.6],[-1.410,8.9],[-1.401,8.6],[-1.393,9.4],
[-1.382,8.1],[-1.374,9.4],[-1.363,8.6],[-1.456,14.9],[-1.444,15.9],[-1.432,15.6],[-1.421,15.7],[-1.411,15.1],[-1.393,15.7],[-1.386,14.7],
[-1.455,17.1],[-1.443,16.7],[-1.428,18.1],[-1.414,17.9],[-1.398,17.3],[-1.385,16.9],[-1.372,16.7],[-1.463,18.5],[-1.451,21.0],[-1.440,20.3],
[-1.528,10.1],[-1.512,10.1],[-1.497,10.6],[-1.486,11.2],[-1.477,12.1],[-1.488,9.7],[-1.474,8.9],[-1.510,12.8],[-1.488,14.2],[-1.473,16.0],
[-1.340,6.1],[-1.331,6.4],[-1.320,7.9],[-1.315,5.0],[-1.306,5.3],[-1.298,5.0],[-1.292,7.2],[-1.276,6.1],[-1.268,6.9],[-1.258,7.5],
[-1.244,8.7],[-1.237,6.1],[-1.224,5.0],[-1.218,6.2],[-1.206,7.4],[-1.203,5.3],[-1.192,6.1],[-1.181,7.0],[-1.176,6.4],[-1.167,7.5],
[-1.160,5.3],[-1.152,8.6],[-1.144,6.5],[-1.133,8.2],[-1.129,7.0],[-1.118,6.0],[-1.107,8.1],[-1.100,7.5],[-1.091,7.0],[-1.087,5.2],
[-1.072,7.7],[-1.067,8.3],[-1.058,8.6],[-1.053,6.3],[-1.042,7.7],[-1.029,8.8],[-1.024,7.3],[-1.018,8.1],[-1.008,8.7],[-0.997,8.9],
[-1.156,9.0],[-1.146,8.6],[-1.133,9.4],[-1.118,10.0],[-1.096,9.2],[-1.075,9.6],[-1.054,9.7],[-1.040,8.7],[-1.027,10.0],[-1.009,9.9]
]

const pointColor = '#0a30dc'
const frameColor = '#111111'
const fontName = '"Liberation Sans", Arial, sans-serif'

// frame, crossing ticks and captions go under the points
const frameAndText = {
    id: 'frameAndText',
    beforeDatasetsDraw(chart, args, opts) {
        const ctx = chart.ctx
        const x = chart.scales.x
        const y = chart.scales.y
        const a = chart.chartArea
        const t = 9.5
        ctx.save()
        ctx.strokeStyle = frameColor
        ctx.lineWidth = 2
        ctx.beginPath()
        xTicks.forEach(v => {
            const p = x.getPixelForValue(v)
            ctx.moveTo(p, a.top - t); ctx.lineTo(p, a.top + t)
            ctx.moveTo(p, a.bottom - t); ctx.lineTo(p, a.bottom + t)
        })
        yTicks.forEach(v => {
            const p = y.getPixelForValue(v)
            ctx.moveTo(a.left - t, p); ctx.lineTo(a.left + t, p)
            ctx.moveTo(a.right - t, p); ctx.lineTo(a.right + t, p)
        })
        ctx.stroke()
        ctx.lineWidth = 3
        ctx.strokeRect(a.left, a.top, a.right - a.left, a.bottom - a.top)

        ctx.fillStyle = frameColor
        ctx.textBaseline = 'alphabetic'
        ctx.textAlign = 'left'
        ctx.font = 'bold 24px ' + fontName
        ctx.fillText(opts.letter, opts.letterX, 71)
        ctx.font = 'bold 22.1px ' + fontName
        ctx.fillText(opts.season, opts.seasonX, opts.seasonY)
        ctx.font = 'bold 22px ' + fontName
        ctx.textAlign = 'center'
        ctx.fillText('OR', opts.orX, 597)

        // y title has sub and superscripts, so it is put together in pieces
        ctx.translate(opts.titleX, opts.titleY)
        ctx.rotate(-Math.PI / 2)
        ctx.textAlign = 'left'
        let pos = 0
        const pieces = [
            ['Φ', '22px "Liberation Serif", serif', 0],
            ['CO', 'bold 22px ' + fontName, 0],
            ['2', 'bold 15px ' + fontName, 7],
            [' [kt km', 'bold 22px ' + fontName, 0],
            ['-2', 'bold 15px ' + fontName, -10],
            [' a', 'bold 22px ' + fontName, 0],
            ['-1', 'bold 15px ' + fontName, -10],
            [']', 'bold 22px ' + fontName, 0]
        ]
        pieces.forEach(p => {
            ctx.font = p[1]
            ctx.fillText(p[0], pos, p[2])
            pos += ctx.measureText(p[0]).width
        })
        ctx.restore()
    }
}

function drawPanel(id, points, area, caption) {
    new Chart(document.getElementById(id), {
        type: 'scatter',
        data: {
            datasets: [{
                data: points.map(p => ({ x: p[0], y: p[1] })),
                backgroundColor: pointColor,
                borderWidth: 0,
                pointRadius: 1.8,
                clip: false
            }]
        },
        options: {
            responsive: false,
            animation: false,
            devicePixelRatio: 1,
            layout: { padding: { top: area.top, right: area.right, left: 0, bottom: 0 } },
            plugins: {
                legend: { display: false },
                tooltip: { enabled: false },
                frameAndText: caption
            },
            scales: {
                x: {
                    min: -2,
                    max: -0.8,
                    grid: { display: false },
                    border: { display: false },
                    afterBuildTicks: axis => { axis.ticks = xTicks.map(v => ({ value: v })) },
                    afterFit: axis => {
                        axis.height = area.bottom
                        axis.paddingLeft = 0
                        axis.paddingRight = 0
                    },
                    ticks: {
                        autoSkip: false,
                        maxRotation: 0,
                        padding: 6,
                        color: frameColor,
                        font: { family: fontName, size: 21, weight: 'bold' },
                        callback: (v, i) => xTickLabels[i]
                    }
                },
                y: {
                    min: 0,
                    max: 50,
                    grid: { display: false },
                    border: { display: false },
                    afterBuildTicks: axis => { axis.ticks = yTicks.map(v => ({ value: v })) },
                    afterFit: axis => {
                        axis.width = area.left
                        axis.paddingTop = 0
                        axis.paddingBottom = 0
                    },
                    ticks: {
                        autoSkip: false,
                        padding: 7,
                        color: frameColor,
                        font: { family: fontName, size: 21, weight: 'bold' }
                    }
                }
            }
        },
        plugins: [frameAndText]
    })
}

drawPanel('panelA', summerSpring,
    { left: 105.7, right: 36.7, top: 26, bottom: 71.7 },
    { letter: 'A', letterX: 136, season: 'summer/spring', seasonX: 431.5, seasonY: 73, orX: 381, titleX: 34, titleY: 346 })
drawPanel('panelB', winterAutumn,
    { left: 116, right: 26.3, top: 26, bottom: 71.7 },
    { letter: 'B', letterX: 147, season: 'winter/autumn', seasonX: 441.5, seasonY: 74, orX: 382, titleX: 45, titleY: 352 })
</script>
</body>
</html>
